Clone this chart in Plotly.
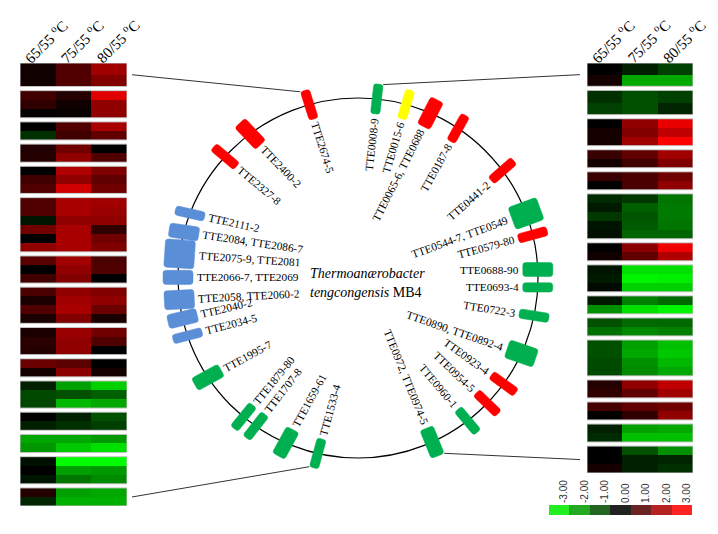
import math
import plotly.graph_objects as go

W, H = 718, 534

# ---------------- data ----------------
columns = ["65/55 <sup>o</sup>C", "75/55 <sup>o</sup>C", "80/55 <sup>o</sup>C"]

# genes around the chromosome (clockwise from the origin at top)
gene_labels = [
    "TTE0008-9", "TTE0015-6", "TTE0065-6, TTE0688", "TTE0187-8", "TTE0441-2",
    "TTE0544-7, TTE0549", "TTE0579-80", "TTE0688-90", "TTE0693-4", "TTE0722-3",
    "TTE0890, TTE0892-4", "TTE0923-4", "TTE0954-5", "TTE0960-1", "TTE0972, TTE0974-5",
    "TTE1533-4", "TTE1659-61", "TTE1707-8", "TTE1879-80", "TTE1995-7",
    "TTE2034-5", "TTE2040-2", "TTE2058, TTE2060-2", "TTE2066-7, TTE2069", "TTE2075-9, TTE2081",
    "TTE2084, TTE2086-7", "TTE2111-2", "TTE2327-8", "TTE2400-2", "TTE2674-5",
]
gene_angle = [
    6.0, 15.5, 23.7, 33.8, 53.4,
    69.0, 76.1, 87.3, 93.0, 102.1,
    114.8, 126.0, 134.1, 142.5, 155.7,
    192.9, 203.7, 214.6, 219.5, 236.5,
    251.3, 257.0, 263.1, 270.2, 277.7,
    284.8, 291.0, 312.4, 323.2, 344.3,
]
gene_count = [
    2, 2, 3, 2, 2,
    5, 2, 3, 2, 2,
    4, 2, 2, 2, 3,
    2, 3, 2, 2, 3,
    2, 3, 4, 3, 6,
    3, 2, 2, 3, 2,
]
gene_class = [
    "green", "yellow", "red", "red", "red",
    "green", "red", "green", "green", "green",
    "green", "red", "red", "green", "green",
    "green", "green", "green", "green", "green",
    "blue", "blue", "blue", "blue", "blue",
    "blue", "blue", "red", "red", "red",
]

left_groups = ["TTE2674-5", "TTE2400-2", "TTE2327-8", "TTE2111-2", "TTE2084, TTE2086-7",
               "TTE2075-9, TTE2081", "TTE2066-7, TTE2069", "TTE2058, TTE2060-2", "TTE2040-2",
               "TTE2034-5", "TTE1995-7", "TTE1879-80", "TTE1707-8", "TTE1659-61", "TTE1533-4"]
left_values = [
    [[0.19, 0.94, 1.88], [0.19, 0.94, 1.50]],
    [[0.75, 0.44, 2.64], [0.56, 0.19, 1.69], [0.05, 0.10, 1.69]],
    [[0.00, 0.94, 1.98], [-0.56, 0.75, 1.13]],
    [[0.38, 1.32, 0.00], [0.44, 1.69, 0.94]],
    [[0.00, 2.07, 1.50], [0.75, 1.69, 1.13], [0.94, 2.45, 1.32]],
    [[0.94, 1.98, 1.88], [0.94, 1.98, 1.79], [-0.25, 1.69, 1.69],
     [1.32, 1.98, 0.56], [0.00, 1.98, 1.32], [1.69, 1.98, 1.50]],
    [[1.06, 1.88, 0.87], [0.00, 1.69, 0.94], [0.75, 1.50, 0.00]],
    [[0.87, 1.69, 1.50], [0.31, 1.88, 1.69], [0.94, 1.98, 1.25], [0.31, 1.50, 0.31]],
    [[0.31, 1.81, 1.32], [0.49, 1.69, 0.94], [0.44, 1.69, 0.00]],
    [[1.25, 1.06, 0.00], [0.25, 1.62, 0.25]],
    [[-0.38, -1.88, -2.45], [-0.87, -0.94, -1.13], [-0.81, -2.16, -1.98]],
    [[0.00, -0.38, -0.94], [-0.38, -0.56, -0.75]],
    [[-1.98, -1.98, -1.79], [-1.79, -2.35, -2.64]],
    [[-0.19, -3.00, -3.00], [0.00, -1.88, -1.79], [-0.25, -1.38, -1.62]],
    [[0.44, -1.88, -1.98], [-0.44, -2.07, -2.07]],
]

right_groups = ["TTE0008-9", "TTE0015-6", "TTE0065-6, TTE0688", "TTE0187-8", "TTE0441-2",
                "TTE0544-7, TTE0549", "TTE0579-80", "TTE0688-90", "TTE0693-4", "TTE0722-3",
                "TTE0890, TTE0892-4", "TTE0923-4", "TTE0954-5", "TTE0960-1", "TTE0972, TTE0974-5"]
right_values = [
    [[0.00, -0.38, -0.75], [0.25, -1.98, -1.98]],
    [[-0.56, -0.94, -0.75], [-0.75, -0.94, -0.44]],
    [[0.00, 1.69, 2.73], [0.25, 1.50, 2.26], [0.25, 1.88, 3.00]],
    [[0.66, 1.13, 1.88], [0.25, 0.75, 1.50]],
    [[0.66, 0.87, 1.32], [0.00, 0.87, 1.69]],
    [[-0.49, -0.66, -1.38], [-0.31, -1.13, -1.44], [-0.66, -1.00, -1.44],
     [-0.25, -1.06, -1.38], [-0.18, -1.19, -1.19]],
    [[0.00, 1.62, 2.82], [0.19, 1.13, 2.07]],
    [[-0.25, -2.64, -2.64], [-0.31, -2.88, -2.82], [-0.12, -2.45, -2.45]],
    [[-0.31, -1.50, -1.25], [-1.69, -2.64, -2.88]],
    [[-0.94, -1.25, -1.25], [-1.32, -1.62, -1.50]],
    [[-0.94, -1.88, -2.26], [-0.94, -1.98, -2.35], [-0.87, -1.69, -2.16], [-0.87, -1.62, -1.98]],
    [[0.44, 1.69, 2.26], [0.56, 1.13, 1.88]],
    [[0.81, 1.13, 1.32], [0.00, 0.56, 1.69]],
    [[-0.38, -1.88, -1.98], [-0.49, -2.26, -2.26]],
    [[0.00, -0.94, -1.69], [0.00, -0.38, -0.44], [0.25, -0.38, -0.56]],
]

cb_values = [-3, -2, -1, 0, 1, 2, 3]
cb_labels = ["-3.00", "-2.00", "-1.00", "0.00", "1.00", "2.00", "3.00"]

title_line1 = "<i>Thermoanærobacter</i>"
title_line2 = "<i>tengcongensis</i> MB4"

# ---------------- style / layout ----------------
# drawing orientation of each gene box and its label (degrees, clockwise from up)
gene_orient = [
    6.3, 16.7, 27.0, 29.2, 48.8,
    70.0, 74.7, 90.0, 90.0, 99.0,
    109.0, 126.0, 133.8, 140.0, 158.0,
    195.3, 208.7, 218.0, 219.1, 241.4,
    255.5, 256.5, 267.0, 270.0, 273.9,
    278.5, 282.7, 310.0, 316.3, 342.6,
]

CLASS_COLORS = {"red": "#ff0000", "green": "#00b050", "yellow": "#ffff00", "blue": "#5a8ed6"}
HEAT_SCALE = [[0.0, "#00ff00"], [0.5, "#000000"], [1.0, "#ff0000"]]
LEG_SCALE = [[0.0, "#22ee22"], [0.5, "#222222"], [1.0, "#ff2424"]]
SERIF = "Liberation Serif"
SANS = "Liberation Sans"

CX, CY, R = 358.0, 278.0, 180.0
RECT_LEN = 30.0
W_PER_GENE = 4.7
LABEL_FS = 11.3
LABEL_GAP = 4.0

GAP = 0.46
LEFT_BOX = (20, 127, 63, 506)    # x0, x1, y0(top), y1(bottom) in px
RIGHT_BOX = (587, 693, 63, 473)
LEFT_SCALE = {0: 1.3}
RIGHT_SCALE = {0: 1.3, 1: 1.35}
CB_BOX = (549, 692, 505, 515)

fig = go.Figure()


def build(groups, scales):
    z, edges, spans = [], [0.0], []
    y = 0.0
    for gi, rows in enumerate(groups):
        h = scales.get(gi, 1.0)
        start = y
        for r in rows:
            z.append(r)
            y += h
            edges.append(y)
        spans.append((start, y))
        if gi < len(groups) - 1:
            z.append([None, None, None])
            y += GAP
            edges.append(y)
    return z, edges, spans, y


lz, ledges, lspans, ltot = build(left_values, LEFT_SCALE)
rz, redges, rspans, rtot = build(right_values, RIGHT_SCALE)

# main pixel axis (dummy trace so it exists)
fig.add_trace(go.Scatter(x=[], y=[], xaxis="x", yaxis="y", showlegend=False, hoverinfo="skip"))

fig.add_trace(go.Heatmap(z=lz, x=[0, 1, 2, 3], y=ledges, xaxis="x2", yaxis="y2",
                         colorscale=HEAT_SCALE, zmin=-3, zmax=3, showscale=False,
                         hoverongaps=False))
fig.add_trace(go.Heatmap(z=rz, x=[0, 1, 2, 3], y=redges, xaxis="x3", yaxis="y3",
                         colorscale=HEAT_SCALE, zmin=-3, zmax=3, showscale=False,
                         hoverongaps=False))
fig.add_trace(go.Heatmap(z=[cb_values], x=cb_values, y=[0], xaxis="x4", yaxis="y4",
                         colorscale=LEG_SCALE, zmin=-3, zmax=3, showscale=False))

shapes = []
annotations = []

# group borders
for spans, xr, yr in ((lspans, "x2", "y2"), (rspans, "x3", "y3")):
    for (a, b) in spans:
        shapes.append(dict(type="rect", xref=xr, yref=yr, x0=0, x1=3, y0=a, y1=b,
                           line=dict(color="#c4c4c4", width=1), layer="above"))

# column headers
for xr in ("x2", "x3"):
    for i, c in enumerate(columns):
        annotations.append(dict(text=c, xref=xr, yref="paper", x=i + 0.5, y=1 - 41 / H,
                                xshift=8, textangle=-45, showarrow=False,
                                xanchor="center", yanchor="middle",
                                font=dict(family=SERIF, size=15, color="black")))

# circle
shapes.append(dict(type="circle", xref="x", yref="y", x0=CX - R, x1=CX + R,
                   y0=CY - R, y1=CY + R, line=dict(color="black", width=1.2), layer="below"))

TW = {"T": 611, "E": 611, "-": 333, ",": 250, " ": 250}


def text_width(s, fs):
    return sum(TW.get(ch, 500) for ch in s) * fs / 1000.0


def on_circle(a_deg):
    a = math.radians(a_deg)
    return CX + R * math.sin(a), CY - R * math.cos(a)


def local(center, o_deg, u, v):
    o = math.radians(o_deg)
    rx, ry = math.sin(o), -math.cos(o)
    tx, ty = math.cos(o), math.sin(o)
    return center[0] + u * rx + v * tx, center[1] + u * ry + v * ty


def rrect_path(center, o_deg, w, L, rr):
    a2, b2 = L / 2.0, w / 2.0
    rr = min(rr, b2 - 0.5)

    def P(u, v):
        x, y = local(center, o_deg, u, v)
        return f"{x:.2f},{y:.2f}"
    return (f"M{P(-a2 + rr, -b2)} L{P(a2 - rr, -b2)} Q{P(a2, -b2)} {P(a2, -b2 + rr)} "
            f"L{P(a2, b2 - rr)} Q{P(a2, b2)} {P(a2 - rr, b2)} L{P(-a2 + rr, b2)} "
            f"Q{P(-a2, b2)} {P(-a2, b2 - rr)} L{P(-a2, -b2 + rr)} Q{P(-a2, -b2)} {P(-a2 + rr, -b2)} Z")


gene_geom = {}
for lab, ang, n, cl, ori in zip(gene_labels, gene_angle, gene_count, gene_class, gene_orient):
    w = W_PER_GENE * n
    col = CLASS_COLORS[cl]
    ctr = on_circle(ang)
    shapes.append(dict(type="path", xref="x", yref="y", path=rrect_path(ctr, ori, w, RECT_LEN, 3.0),
                       fillcolor=col, line=dict(color=col, width=0.5), layer="above"))
    gene_geom[lab] = (ctr, ori, w)
    tw = text_width(lab, LABEL_FS)
    x, y = local(ctr, ori, -(RECT_LEN / 2 + LABEL_GAP + tw / 2), 0)
    tang = ori - 90 if ori < 180 else ori + 90 - 360
    annotations.append(dict(text=lab, xref="x", yref="y", x=x, y=y, textangle=tang,
                            showarrow=False, xanchor="center", yanchor="middle",
                            font=dict(family=SERIF, size=LABEL_FS, color="black")))

# connectors heatmap <-> genome positions
lscale = (LEFT_BOX[3] - LEFT_BOX[2]) / ltot
rscale = (RIGHT_BOX[3] - RIGHT_BOX[2]) / rtot
conns = [
    (left_groups[0], LEFT_BOX[1] + 5, LEFT_BOX[2] + (lspans[0][0] + lspans[0][1]) / 2 * lscale, -1),
    (left_groups[-1], LEFT_BOX[1] + 5, LEFT_BOX[2] + (lspans[-1][0] + lspans[-1][1]) / 2 * lscale, -1),
    (right_groups[0], RIGHT_BOX[0] - 7, RIGHT_BOX[2] + (rspans[0][0] + rspans[0][1]) / 2 * rscale, 1),
    (right_groups[-1], RIGHT_BOX[0] - 7, RIGHT_BOX[2] + (rspans[-1][0] + rspans[-1][1]) / 2 * rscale, 1),
]
for lab, hx, hy, side in conns:
    ctr, ori, w = gene_geom[lab]
    c1 = local(ctr, ori, RECT_LEN / 2, w / 2)
    c2 = local(ctr, ori, RECT_LEN / 2, -w / 2)
    cx_, cy_ = (min(c1, c2) if side < 0 else max(c1, c2))
    shapes.append(dict(type="line", xref="x", yref="y", x0=hx, y0=hy, x1=cx_, y1=cy_,
                       line=dict(color="#333333", width=1), layer="below"))

# title in centre
annotations.append(dict(text=title_line1, xref="x", yref="y", x=308, y=273, showarrow=False,
                        xanchor="left", yanchor="middle",
                        font=dict(family=SERIF, size=14, color="black")))
annotations.append(dict(text=title_line2, xref="x", yref="y", x=308, y=292, showarrow=False,
                        xanchor="left", yanchor="middle",
                        font=dict(family=SERIF, size=14, color="black")))

hidden = dict(visible=False, showgrid=False, zeroline=False, fixedrange=True)
fig.update_layout(
    width=W, height=H, autosize=False,
    margin=dict(l=0, r=0, t=0, b=0, pad=0),
    paper_bgcolor="white", plot_bgcolor="rgba(0,0,0,0)",
    showlegend=False,
    xaxis=dict(domain=[0, 1], range=[0, W], anchor="y", **hidden),
    yaxis=dict(domain=[0, 1], range=[H, 0], anchor="x", **hidden),
    xaxis2=dict(domain=[LEFT_BOX[0] / W, LEFT_BOX[1] / W], range=[0, 3], anchor="y2", **hidden),
    yaxis2=dict(domain=[1 - LEFT_BOX[3] / H, 1 - LEFT_BOX[2] / H], range=[ltot, 0], anchor="x2", **hidden),
    xaxis3=dict(domain=[RIGHT_BOX[0] / W, RIGHT_BOX[1] / W], range=[0, 3], anchor="y3", **hidden),
    yaxis3=dict(domain=[1 - RIGHT_BOX[3] / H, 1 - RIGHT_BOX[2] / H], range=[rtot, 0], anchor="x3", **hidden),
    xaxis4=dict(domain=[CB_BOX[0] / W, CB_BOX[1] / W], range=[-3.5, 3.5], anchor="y4",
                side="top", tickmode="array", tickvals=cb_values, ticktext=cb_labels,
                tickangle=-90, ticks="", showgrid=False, zeroline=False, showline=False,
                tickfont=dict(family=SANS, size=10, color="#333333"),
                ticklabelshift=5, ticklabelstandoff=1, fixedrange=True),
    yaxis4=dict(domain=[1 - CB_BOX[3] / H, 1 - CB_BOX[2] / H], range=[-0.5, 0.5], anchor="x4", **hidden),
    shapes=shapes,
    annotations=annotations,
)

fig.write_html("out.html", config={"displayModeBar": False},
               post_script="document.body.style.margin='0';document.body.style.overflow='hidden';")
